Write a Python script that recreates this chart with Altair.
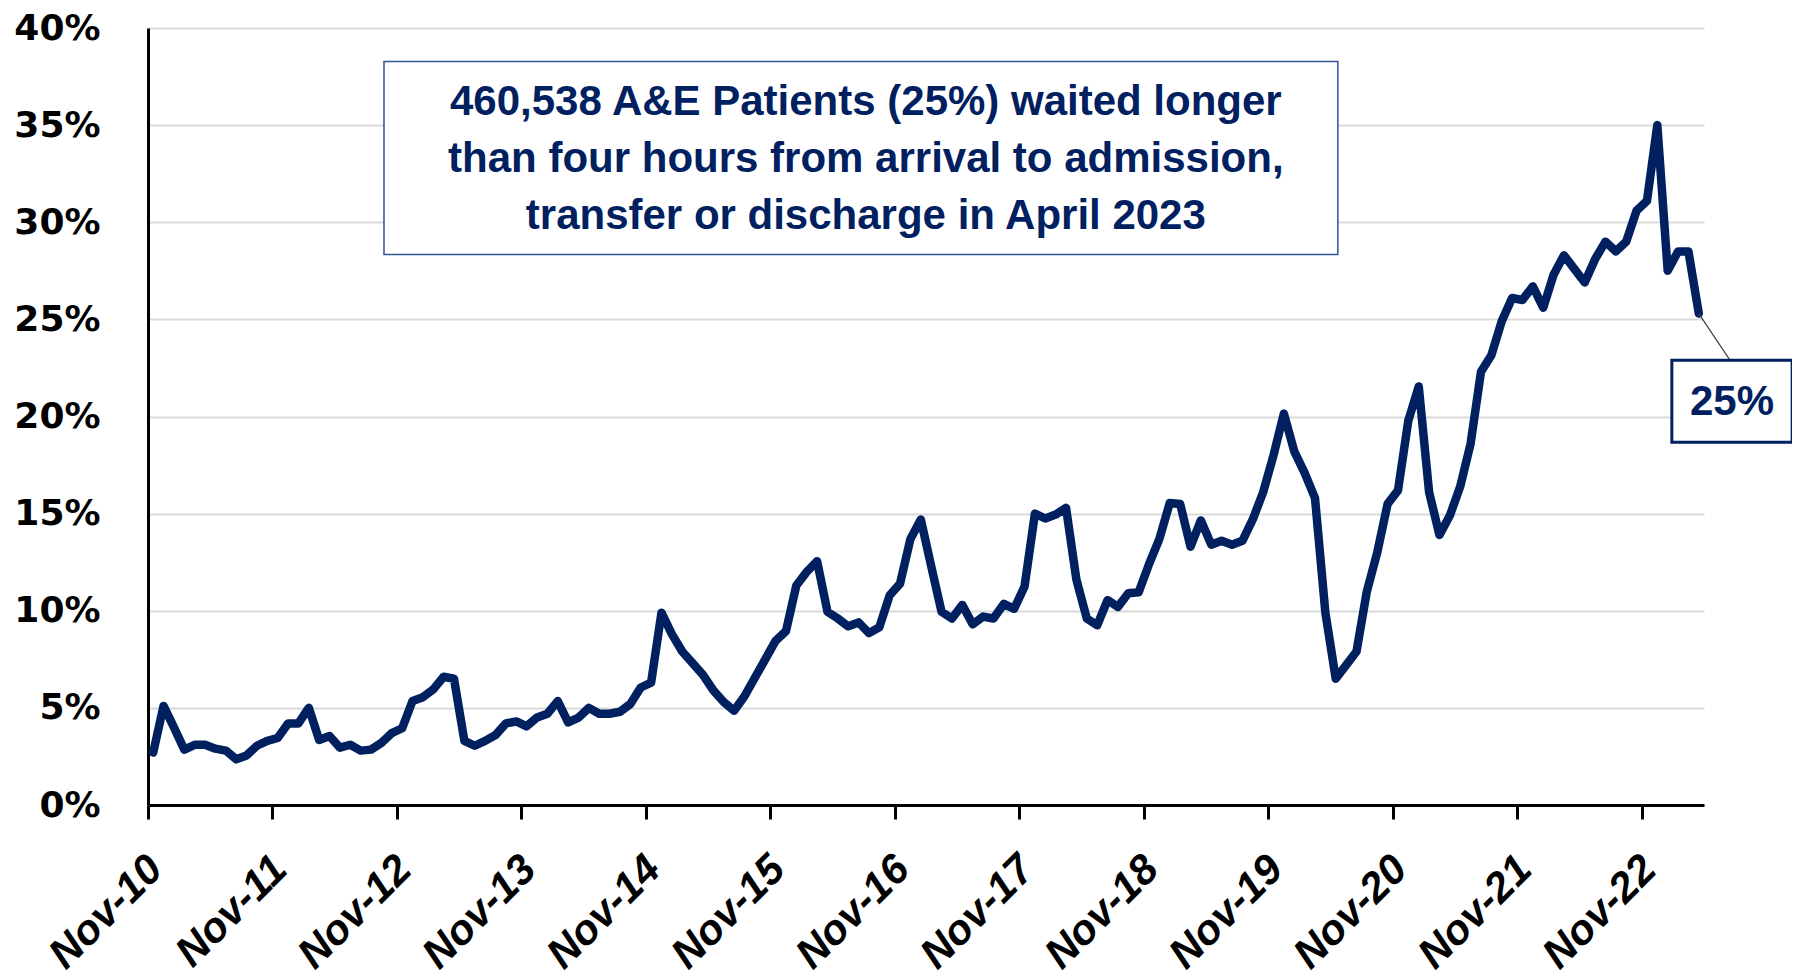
import altair as alt
import pandas as pd

# Share of A&E patients waiting longer than 4 hours (%), monthly Nov-10 .. Apr-23
values = [
    2.7, 5.1, 4.0, 2.85, 3.1, 3.1, 2.9, 2.8, 2.35, 2.55, 3.05, 3.3,
    3.45, 4.2, 4.2, 5.0, 3.35, 3.55, 2.95, 3.1, 2.8, 2.85, 3.2, 3.7,
    3.95, 5.35, 5.55, 5.95, 6.6, 6.5, 3.3, 3.05, 3.3, 3.6, 4.2, 4.3,
    4.05, 4.5, 4.7, 5.35, 4.25, 4.5, 5.0, 4.7, 4.7, 4.8, 5.2, 6.05,
    6.3, 9.9, 8.8, 7.9, 7.3, 6.7, 5.9, 5.3, 4.85, 5.6, 6.55, 7.5,
    8.45, 8.95, 11.3, 12.0, 12.55, 9.95, 9.6, 9.2, 9.4, 8.85, 9.15, 10.8,
    11.4, 13.7, 14.7, 12.3, 9.95, 9.6, 10.3, 9.3, 9.7, 9.6, 10.35, 10.1,
    11.25, 15.0, 14.75, 14.95, 15.3, 11.6, 9.6, 9.25, 10.55, 10.2, 10.9, 10.95,
    12.4, 13.7, 15.55, 15.5, 13.3, 14.65, 13.4, 13.6, 13.4, 13.6, 14.7, 16.1,
    18.0, 20.15, 18.2, 17.1, 15.8, 9.9, 6.5, 7.2, 7.9, 11.0, 13.0, 15.5,
    16.2, 19.8, 21.55, 16.1, 13.9, 14.9, 16.4, 18.6, 22.3, 23.15, 24.9, 26.1,
    26.0, 26.7, 25.6, 27.3, 28.3, 27.6, 26.9, 28.1, 29.0, 28.5, 29.0, 30.6,
    31.1, 35.0, 27.5, 28.5, 28.5, 25.3,
]
month_pos = [i + 0.5 for i in range(len(values))]

tick_values = [0, 12, 24, 36, 48, 60, 72, 84, 96, 108, 120, 132, 144]
tick_labels = ["Nov-10", "Nov-11", "Nov-12", "Nov-13", "Nov-14", "Nov-15", "Nov-16",
               "Nov-17", "Nov-18", "Nov-19", "Nov-20", "Nov-21", "Nov-22"]
y_ticks = [0, 5, 10, 15, 20, 25, 30, 35, 40]

# annotation box (data coordinates: month index, percent)
box_x, box_x2 = [22.75], [114.7]
box_y, box_y2 = [38.27], [28.34]
box_lines = ["460,538 A&E Patients (25%) waited longer",
             "than four hours from arrival to admission,",
             "transfer or discharge in April 2023"]
box_line_x = [69.2, 69.2, 69.2]
box_line_y = [36.2, 33.26, 30.3]

# last value label
lab_x, lab_x2 = [146.9], [158.5]
lab_y, lab_y2 = [18.67], [22.9]
lab_text = ["25%"]
lab_tx, lab_ty = [152.7], [20.75]
lead_x, lead_x2 = [149.5], [152.5]
lead_y, lead_y2 = [25.3], [22.9]

NAVY = "#002060"
xs = alt.Scale(domain=[0, 150], nice=False, zero=False)
ys = alt.Scale(domain=[0, 40], nice=False)

df = pd.DataFrame({"m": month_pos, "v": values})
label_arr = "[" + ",".join("'%s'" % t for t in tick_labels) + "]"

line = alt.Chart(df).mark_line(color=NAVY, strokeWidth=8.5, strokeJoin="round", strokeCap="round").encode(
    x=alt.X("m:Q", scale=xs, title=None, axis=alt.Axis(
        values=tick_values, labelExpr=label_arr + "[round(datum.value/12)]",
        grid=False, domain=True, domainColor="black", domainWidth=3,
        ticks=True, tickColor="black", tickWidth=3, tickSize=14,
        labelAngle=315, labelAlign="right", labelBaseline="top",
        labelFont="Liberation Sans", labelFontSize=42, labelFontWeight="bold",
        labelFontStyle="italic", labelColor="black", labelPadding=29, labelOffset=-7,
        labelOverlap=False, labelFlush=False, labelBound=False, title=None)),
    y=alt.Y("v:Q", scale=ys, title=None, axis=alt.Axis(
        values=y_ticks, labelExpr="datum.value + '%'",
        grid=True, gridColor="#D9D9D9", gridWidth=2,
        domain=True, domainColor="black", domainWidth=3, ticks=False,
        labelFont="DejaVu Sans", labelFontSize=36, labelFontWeight="bold",
        labelColor="black", labelPadding=48, labelFlush=False,
        labelOverlap=False, title=None)),
)

box_df = pd.DataFrame({"x": box_x, "x2": box_x2, "y": box_y, "y2": box_y2})
box = alt.Chart(box_df).mark_rect(fill="white", stroke="#2E5395", strokeWidth=1.5).encode(
    x=alt.X("x:Q", scale=xs, title=None), x2="x2:Q",
    y=alt.Y("y:Q", scale=ys, title=None), y2="y2:Q")

txt_df = pd.DataFrame({"t": box_lines, "x": box_line_x, "y": box_line_y})
txt = alt.Chart(txt_df).mark_text(font="Liberation Sans", fontSize=42, fontWeight="bold",
                                  color=NAVY, align="center", baseline="middle").encode(
    x=alt.X("x:Q", scale=xs, title=None), y=alt.Y("y:Q", scale=ys, title=None), text="t:N")

lead_df = pd.DataFrame({"x": lead_x, "x2": lead_x2, "y": lead_y, "y2": lead_y2})
lead = alt.Chart(lead_df).mark_rule(color="#404040", strokeWidth=1.2).encode(
    x=alt.X("x:Q", scale=xs, title=None), x2="x2:Q",
    y=alt.Y("y:Q", scale=ys, title=None), y2="y2:Q")

lab_df = pd.DataFrame({"x": lab_x, "x2": lab_x2, "y": lab_y, "y2": lab_y2})
lab_box = alt.Chart(lab_df).mark_rect(fill="white", stroke=NAVY, strokeWidth=3).encode(
    x=alt.X("x:Q", scale=xs, title=None), x2="x2:Q",
    y=alt.Y("y:Q", scale=ys, title=None), y2="y2:Q")

lab_t_df = pd.DataFrame({"t": lab_text, "x": lab_tx, "y": lab_ty})
lab_txt = alt.Chart(lab_t_df).mark_text(font="Liberation Sans", fontSize=42, fontWeight="bold",
                                        color=NAVY, align="center", baseline="middle").encode(
    x=alt.X("x:Q", scale=xs, title=None), y=alt.Y("y:Q", scale=ys, title=None), text="t:N")

chart = alt.layer(line, box, txt, lead, lab_box, lab_txt).properties(
    width=1556, height=777,
    padding={"left": 140, "top": 20, "right": 88, "bottom": 166},
    autosize="none",
    background="white",
).configure_view(stroke=None)

chart.save("out.html", embed_options={"renderer": "svg", "actions": False})
